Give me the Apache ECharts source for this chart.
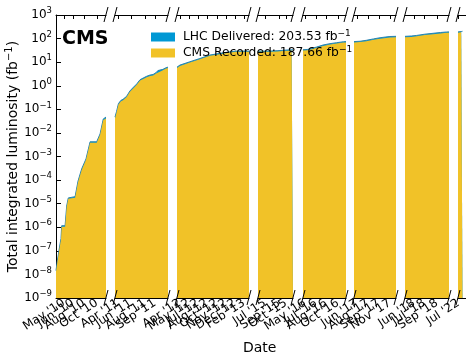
<!DOCTYPE html>
<html>
<head>
<meta charset="utf-8">
<script src="https://cdn.jsdelivr.net/npm/echarts@6/dist/echarts.min.js"></script>
<style>
  html, body { margin: 0; padding: 0; background: #fff; }
  #chart { width: 466px; height: 356px; }
</style>
</head>
<body>
<div id="chart"></div>
<script>
// ---- Integrated luminosity per run year (day of year, fb^-1, cumulative over all years) ----
// 2012 run continues into early 2013, so its days go past 366.
const days2010 = [85, 91, 103, 107, 110, 125, 132, 139, 169, 182, 198, 217, 235, 264, 279, 293, 301, 305];
const rec2010  = [1.3e-8, 3.4e-8, 1.8e-7, 3.0e-7, 1.05e-6, 1.05e-6, 7.2e-6, 1.6e-5, 1.8e-5, 8.3e-5, 2.7e-4, 7.2e-4, 3.8e-3, 3.8e-3, 8.3e-3, 0.035, 0.041, 0.041];
const del2010  = [1.45e-8, 3.8e-8, 2.0e-7, 3.3e-7, 1.16e-6, 1.16e-6, 7.9e-6, 1.75e-5, 1.98e-5, 9.1e-5, 3.0e-4, 7.9e-4, 4.2e-3, 4.2e-3, 9.1e-3, 0.039, 0.047, 0.047];

const days2011 = [72, 79, 87, 98, 107, 123, 137, 150, 167, 181, 195, 210, 225, 238, 251, 259, 281, 292, 303];
const rec2011  = [0.041, 0.075, 0.16, 0.22, 0.24, 0.33, 0.55, 0.75, 1.1, 1.65, 1.95, 2.3, 2.6, 2.75, 3.3, 4.0, 4.5, 5.2, 5.59];
const del2011  = [0.047, 0.082, 0.175, 0.24, 0.265, 0.36, 0.6, 0.82, 1.2, 1.8, 2.13, 2.52, 2.85, 3.0, 3.6, 4.4, 4.95, 5.7, 6.15];

const days2012 = [88, 101, 146, 191, 236, 281, 326, 352, 412];
const rec2012  = [5.59, 6.9, 9.6, 13.2, 18.5, 21.8, 25.5, 27.4, 27.4];
const del2012  = [6.15, 7.5, 10.4, 14.3, 20.0, 23.6, 27.5, 29.4, 29.4];

const days2015 = [150, 180, 210, 235, 260, 285, 300, 306];
const rec2015  = [27.4, 27.5, 27.8, 28.4, 29.5, 30.6, 31.2, 31.2];
const del2015  = [29.4, 29.5, 29.9, 30.6, 31.8, 33.0, 33.6, 33.6];

const days2016 = [111, 130, 150, 172, 200, 231, 260, 290, 302];
const rec2016  = [31.2, 32, 35.5, 40.5, 49, 56, 61.5, 67.5, 69];
const del2016  = [33.6, 34.5, 38.5, 44, 53.3, 61, 66.8, 73.2, 74.7];

const days2017 = [143, 170, 198, 230, 259, 285, 303, 330];
const rec2017  = [69, 71, 78, 89, 99, 107, 112, 114];
const del2017  = [74.7, 77, 84.5, 97, 108.5, 117, 122.5, 124.5];

const days2018 = [107, 135, 159, 195, 232, 265, 292, 303];
const rec2018  = [114, 118, 125, 141, 154, 166, 175, 177.6];
const del2018  = [124.5, 128.5, 136, 153.5, 167.5, 181, 190, 192.4];

const days2022 = [180, 190, 200, 212, 225];
const rec2022  = [177.6, 177.8, 180, 183.5, 187.66];
const del2022  = [192.4, 192.7, 195.3, 199, 203.53];

// ---- Date axis of each panel: visible day range, tick days and tick labels ----
const range2010 = [85, 305],  ticks2010 = [120, 160, 208, 265];
const labels2010 = ["May '10", "Jun '10", "Aug '10", "Oct '10"];
const range2011 = [72, 303],  ticks2011 = [85, 142, 203, 246];
const labels2011 = ["Apr '11", "Jun '11", "Aug '11", "Sep '11"];
const range2012 = [88, 412],  ticks2012 = [101, 142, 182, 223, 268, 308, 349, 389];
const labels2012 = ["Apr '12", "May '12", "Jul '12", "Aug '12", "Oct '12", "Nov '12", "Dec '12", "Feb '13"];
const range2015 = [150, 306], ticks2015 = [181, 244, 275];
const labels2015 = ["Jul '15", "Sep '15", "Oct '15"];
const range2016 = [111, 302], ticks2016 = [120, 169, 213, 266];
const labels2016 = ["May '16", "Jul '16", "Aug '16", "Oct '16"];
const range2017 = [143, 330], ticks2017 = [156, 205, 254, 303];
const labels2017 = ["Jun '17", "Aug '17", "Sep '17", "Nov '17"];
const range2018 = [107, 303], ticks2018 = [147, 192, 249];
const labels2018 = ["Jun '18", "Jul '18", "Sep '18"];
const range2022 = [180, 260], ticks2022 = [184];
const labels2022 = ["Jul '22"];

// ---- Totals shown in the legend ----
const totalDelivered = '203.53';
const totalRecorded = '187.66';
const yExpMin = -9, yExpMax = 3;

const panels = [
  { days: days2010, rec: rec2010, del: del2010, range: range2010, ticks: ticks2010, labels: labels2010 },
  { days: days2011, rec: rec2011, del: del2011, range: range2011, ticks: ticks2011, labels: labels2011 },
  { days: days2012, rec: rec2012, del: del2012, range: range2012, ticks: ticks2012, labels: labels2012 },
  { days: days2015, rec: rec2015, del: del2015, range: range2015, ticks: ticks2015, labels: labels2015 },
  { days: days2016, rec: rec2016, del: del2016, range: range2016, ticks: ticks2016, labels: labels2016 },
  { days: days2017, rec: rec2017, del: del2017, range: range2017, ticks: ticks2017, labels: labels2017 },
  { days: days2018, rec: rec2018, del: del2018, range: range2018, ticks: ticks2018, labels: labels2018 },
  { days: days2022, rec: rec2022, del: del2022, range: range2022, ticks: ticks2022, labels: labels2022 }
];

// ---- Layout (pixels) ----
const panelLeft  = [56, 115, 177, 258, 303, 354, 405, 458];
const panelRight = [106, 168, 249, 293, 346, 396, 449, 476];
const plotTop = 15, plotBottom = 298;

const FONT = 'DejaVu Sans';
const BLUE = 'rgb(0,152,212)';
const YELLOW = 'rgb(241,194,40)';
const INK = '#000';

const grids = [], xAxes = [], yAxes = [], series = [];

panels.forEach((p, i) => {
  grids.push({
    left: panelLeft[i], width: panelRight[i] - panelLeft[i],
    top: plotTop, height: plotBottom - plotTop, containLabel: false
  });
  const baseX = {
    type: 'value', gridIndex: i, min: p.range[0], max: p.range[1],
    splitLine: { show: false },
    axisLine: { show: true, onZero: false, lineStyle: { color: INK, width: 1 } },
    axisTick: { show: true, inside: true, length: 4, customValues: p.ticks, lineStyle: { color: INK } },
    axisLabel: { show: false }
  };
  // spine + ticks at the bottom (series are bound to this one)
  const mainIndex = xAxes.length;
  xAxes.push(Object.assign({}, baseX, { position: 'bottom' }));
  // spine + ticks at the top
  xAxes.push(Object.assign({}, baseX, { position: 'top' }));
  // one label carrier per tick so the crowded date labels are all kept
  p.ticks.forEach((t, k) => {
    xAxes.push({
      type: 'value', gridIndex: i, min: p.range[0], max: p.range[1], position: 'bottom',
      splitLine: { show: false }, axisLine: { show: false, onZero: false }, axisTick: { show: false },
      axisLabel: {
        show: true, customValues: [t], rotate: 33, margin: 4,
        fontFamily: FONT, fontSize: 12, color: INK,
        formatter: () => p.labels[k]
      }
    });
  });

  const first = i === 0;
  yAxes.push({
    type: 'log', logBase: 10, gridIndex: i,
    min: Math.pow(10, yExpMin), max: Math.pow(10, yExpMax), interval: 1,
    show: first,
    splitLine: { show: false },
    axisLine: { show: first, lineStyle: { color: INK, width: 1 } },
    axisTick: { show: first, inside: true, length: 5, lineStyle: { color: INK } },
    axisLabel: {
      show: first, margin: 4, fontFamily: FONT, color: INK,
      formatter: v => {
        const e = Math.round(Math.log10(v));
        return '{b|10}{s|' + (e < 0 ? '\u2212' + (-e) : e) + '}';
      },
      rich: {
        b: { fontFamily: FONT, fontSize: 12, color: INK },
        s: { fontFamily: FONT, fontSize: 8.5, color: INK, padding: [0, 0, 8, 0] }
      }
    },
    name: first ? '{t|Total integrated luminosity (fb}{s|\u22121}{t|)}' : '',
    nameLocation: 'middle', nameGap: 30, nameRotate: 90,
    nameTextStyle: {
      fontFamily: FONT, fontSize: 14, color: INK,
      rich: {
        t: { fontFamily: FONT, fontSize: 14, color: INK },
        s: { fontFamily: FONT, fontSize: 10, color: INK, padding: [0, 0, 8, 0] }
      }
    }
  });

  const delData = p.days.map((d, k) => [d, p.del[k]]);
  const recData = p.days.map((d, k) => [d, p.rec[k]]);
  series.push({
    name: 'LHC Delivered', type: 'line', xAxisIndex: mainIndex, yAxisIndex: i,
    data: delData, showSymbol: false, symbol: 'none', silent: true,
    itemStyle: { color: BLUE },
    lineStyle: { color: 'rgb(40,130,175)', width: 1 },
    areaStyle: { color: BLUE, opacity: 1, origin: 'start' },
    z: 2
  });
  series.push({
    name: 'CMS Recorded', type: 'line', xAxisIndex: mainIndex, yAxisIndex: i,
    data: recData, showSymbol: false, symbol: 'none', silent: true,
    itemStyle: { color: YELLOW },
    lineStyle: { width: 0 },
    areaStyle: { color: YELLOW, opacity: 1, origin: 'start' },
    z: 3
  });
});

// Broken-axis marks at each gap between panels, on the top and bottom spines
const breakMarks = [];
for (let i = 0; i < panelLeft.length - 1; i++) {
  [panelRight[i], panelLeft[i + 1]].forEach(x => {
    [plotTop, plotBottom].forEach(y => {
      breakMarks.push({
        type: 'line', silent: true, z: 100,
        shape: { x1: x - 2, y1: y + 7, x2: x + 2, y2: y - 8 },
        style: { stroke: INK, lineWidth: 1 }
      });
    });
  });
}

const chart = echarts.init(document.getElementById('chart'), null, { renderer: 'canvas' });
chart.setOption({
  animation: false,
  backgroundColor: '#fff',
  grid: grids,
  xAxis: xAxes,
  yAxis: yAxes,
  series: series,
  legend: {
    data: ['LHC Delivered', 'CMS Recorded'],
    orient: 'vertical', left: 146, top: 24,
    icon: 'rect', itemWidth: 24, itemHeight: 9, itemGap: 2,
    selectedMode: false,
    textStyle: {
      fontFamily: FONT, fontSize: 12, color: INK,
      rich: {
        g: { width: 3 },
        t: { fontFamily: FONT, fontSize: 12.3, color: INK },
        s: { fontFamily: FONT, fontSize: 9, color: INK, padding: [0, 0, 7, 0] }
      }
    },
    formatter: name => name === 'LHC Delivered'
      ? '{g|}{t|LHC Delivered: ' + totalDelivered + ' fb}{s|\u22121}'
      : '{g|}{t|CMS Recorded: ' + totalRecorded + ' fb}{s|\u22121}'
  },
  graphic: breakMarks.concat([
    {
      type: 'text', left: 62, top: 30, z: 100,
      style: { text: 'CMS', fontFamily: FONT, fontWeight: 'bold', fontSize: 19, fill: INK }
    },
    {
      type: 'text', left: 243, top: 341, z: 100,
      style: { text: 'Date', fontFamily: FONT, fontSize: 14, fill: INK }
    }
  ])
});
</script>
</body>
</html>
